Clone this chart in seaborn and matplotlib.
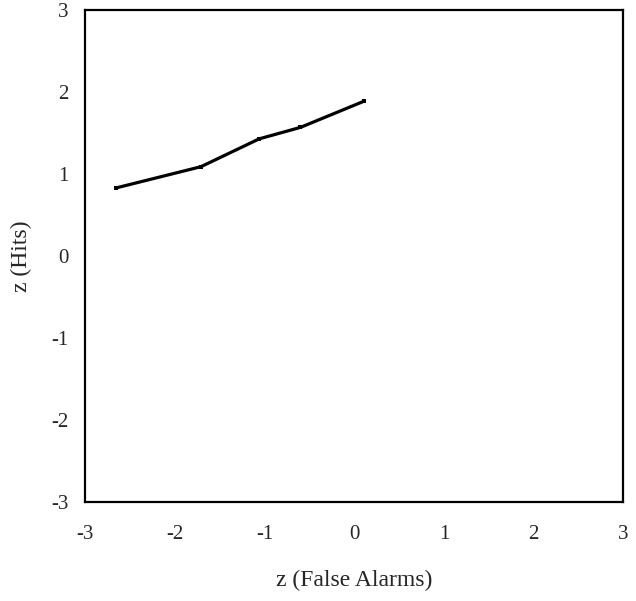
import numpy as np
import pandas as pd
import seaborn as sns
import matplotlib.pyplot as plt

# =========================
# Data
# =========================
z_false_alarms = [-2.66, -1.71, -1.06, -0.60, 0.11]
z_hits = [0.83, 1.09, 1.43, 1.57, 1.89]
ticks = [-3, -2, -1, 0, 1, 2, 3]

df = pd.DataFrame({'zfa': z_false_alarms, 'zh': z_hits})

# =========================
# Plot
# =========================
sns.set_style('white')
plt.rcParams['font.family'] = ['Liberation Serif', 'DejaVu Serif']

fig = plt.figure(figsize=(6.36, 6.01), dpi=100)
ax = fig.add_axes([0.134, 0.165, 0.846, 0.818])

sns.lineplot(data=df, x='zfa', y='zh', ax=ax, sort=False, color='black',
             linewidth=2.3, marker='s', markersize=3.5, markeredgewidth=0)

ax.set_xlim(-3, 3)
ax.set_ylim(-3, 3)
ax.set_xticks(ticks)
ax.set_yticks(ticks)
ax.set_xticklabels([str(t) for t in ticks], fontsize=15)
ax.set_yticklabels([str(t) for t in ticks], fontsize=15)
ax.tick_params(axis='y', direction='out', length=5, width=1.2, color='black', pad=7)
ax.tick_params(axis='x', direction='in', length=3, width=1.2, color='black', pad=17)

for s in ax.spines.values():
    s.set_color('black')
    s.set_linewidth(1.6)

ax.set_xlabel('z (False Alarms)', fontsize=17, labelpad=18)
ax.set_ylabel('z (Hits)', fontsize=17, labelpad=14)

fig.savefig('out.png', dpi=100, facecolor='white')
